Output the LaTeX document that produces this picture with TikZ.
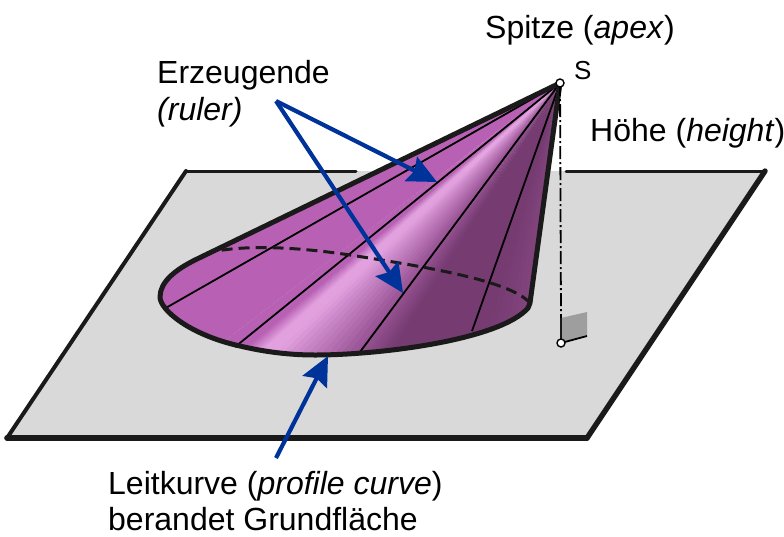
\documentclass[tikz,border=0pt]{standalone}
\usepackage{fontspec}
\setmainfont{Liberation Sans}
\usetikzlibrary{arrows.meta}
\definecolor{plane}{HTML}{D9D9D9}
\definecolor{ablue}{HTML}{003399}
\definecolor{cA}{HTML}{B861B4}
\definecolor{cB}{HTML}{E2A0DF}
\definecolor{cC}{HTML}{9A5596}
\definecolor{cD}{HTML}{763C72}
\definecolor{cE}{HTML}{8D4C88}
\definecolor{edge}{HTML}{1A1A1A}
\tikzset{
  label text/.style={inner sep=0pt,anchor=base west,font=\fontsize{32}{36}\selectfont,text=black},
  ruler line/.style={draw=black,line width=1.8pt},
  outline/.style={draw=edge,line cap=round,line join=round},
  blue arrow/.style={draw=ablue,line width=4.2pt,-{Stealth[length=29pt,width=27pt,inset=4pt]}},
  open dot/.style={circle,draw=black,fill=white,line width=1.4pt,minimum size=8pt,inner sep=0pt},
}
\def\conepath{(560,83) -- (195,260) .. controls (175,270) and (160,282) .. (160,297) .. controls (160,310) and (190,335) .. (240,346) .. controls (265,352) and (290,355) .. (315,355) .. controls (380,355) and (500,340) .. (528,308) -- (530,303) -- cycle}
\begin{document}
\begin{tikzpicture}[x=1pt,y=-1pt]
\useasboundingbox (0,0) rectangle (784,536);
% plane
\fill[plane] (186,171) -- (765,171) -- (587,438) -- (7,438) -- cycle;
\draw[outline,line width=3pt] (356,171) -- (186,171);
\draw[outline,line width=3pt] (566,171) -- (765,171);
\draw[outline,line width=5.4pt] (765,171) -- (587,438);
\draw[outline,line width=5.6pt] (587,438) -- (7,438);
\draw[outline,line width=4pt] (7,438) -- (186,171);
% cone shading: fan of wedges from the apex
\begin{scope}
\clip \conepath;
\fill[cA] (560,83) -- (-60,360) -- (200,360) -- cycle;
\foreach \xa/\xb/\ca/\cb in {200/232/cA/cA,232/252/cA/cB,252/268/cB/cB,268/350/cB/cC,350/386/cC/cD,386/480/cD/cD,480/560/cD/cE}{
  \foreach \i in {0,...,11}{
    \pgfmathsetmacro\pa{\xa+(\xb-\xa)*\i/12}
    \pgfmathsetmacro\pb{\xa+(\xb-\xa)*(\i+1.4)/12}
    \pgfmathsetmacro\mx{100*(\i+0.5)/12}
    \fill[\cb!\mx!\ca] (560,83) -- (\pa,360) -- (\pb,360) -- cycle;
  }
}
\end{scope}
% rulers
\coordinate (S) at (560,83);
\coordinate (r1) at (164,309);
\coordinate (r2) at (235,347);
\coordinate (r3) at (360,352);
\coordinate (r4) at (472,331);
\foreach \r in {r1,r2,r3,r4}{\draw[ruler line] (S) -- (\r);}
% hidden part of the base
\draw[draw=edge,line width=3pt,dash pattern=on 11pt off 6pt] (530,303) .. controls (510,280) and (420,266) .. (350,255) .. controls (290,246) and (240,245) .. (207,253);
% outline of the cone
\draw[outline,line width=5pt] (560,83) -- (195,260) .. controls (175,270) and (160,282) .. (160,297) .. controls (160,310) and (190,335) .. (240,346) .. controls (265,352) and (290,355) .. (315,355) .. controls (380,355) and (500,340) .. (528,308) -- (530,303) -- cycle;
% height
\coordinate (F) at (561,343);
\coordinate (Ftop) at (561,318);
\fill[black!38] (561,318) -- (587,312) -- (587,336) -- (561,343) -- cycle;
\draw[black,line width=1.8pt,dash pattern=on 13pt off 3pt on 2pt off 3pt] (S) -- (Ftop);
\draw[black!90,line width=2.5pt] (Ftop) -- (F);
\coordinate (Fr) at (587,336);
\draw[black,line width=1.8pt] (F) -- (Fr);
\node[open dot] (foot) at (F) {};
\node[open dot] (apex) at (560,83) {};
% labels
\node[label text] (tSpitze) at (485,38) {Spitze (\textit{apex})};
\node[label text,font=\fontsize{26}{30}\selectfont] (tS) at (574,79) {S};
\node[label text] (tHoehe) at (590,141) {Höhe (\textit{height})};
\node[label text] (tErz) at (157,83) {Erzeugende};
\node[label text] (tRuler) at (157,120) {\textit{(ruler)}};
\node[label text] (tLeit) at (108,494) {Leitkurve (\textit{profile curve})};
\node[label text] (tBer) at (108,530) {berandet Grundfläche};
% arrows
\coordinate (fork) at (276,101);
\coordinate (a1) at (437,182);
\coordinate (a2) at (403,293);
\coordinate (a3s) at (276,458);
\coordinate (a3) at (328,356);
\draw[blue arrow] (fork) -- (a1);
\draw[blue arrow] (fork) -- (a2);
\draw[blue arrow] (a3s) -- (a3);
\end{tikzpicture}
\end{document}
